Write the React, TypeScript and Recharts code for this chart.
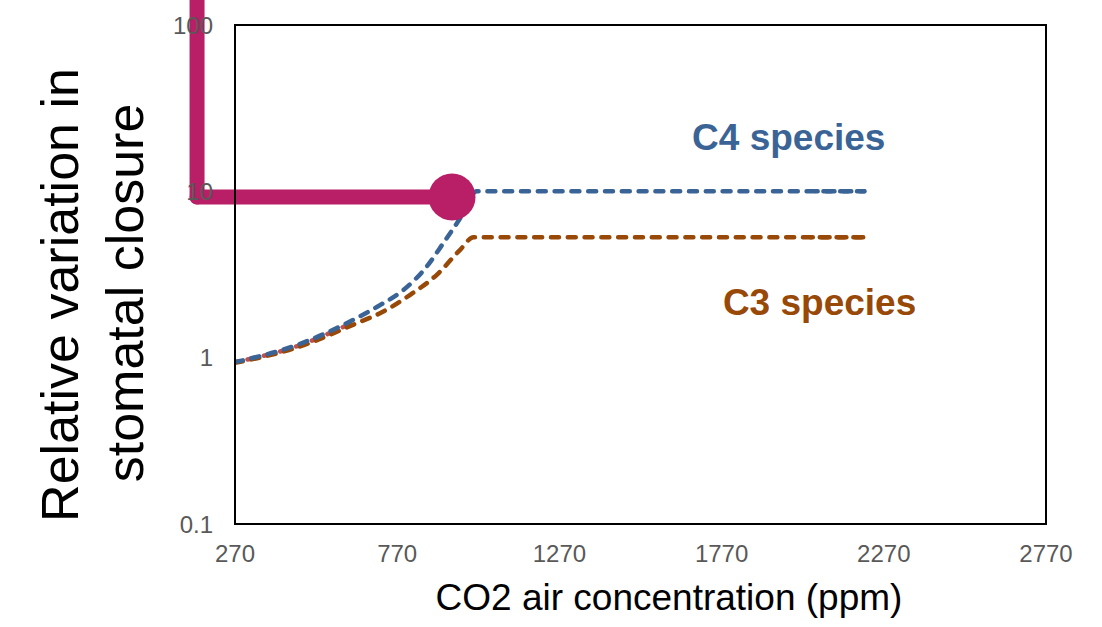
import React from 'react';
import { LineChart, Line, XAxis, YAxis, ReferenceArea, ReferenceLine, ReferenceDot, Label } from 'recharts';

// axis ticks
const xTicks = [270, 770, 1270, 1770, 2270, 2770];
const yTicks = [0.1, 1, 10, 100];

// relative variation curves
const c4Species = [
    { x: 270, y: 0.94 }, { x: 460, y: 1.19 }, { x: 645, y: 1.73 }, { x: 717, y: 2.07 },
    { x: 789, y: 2.55 }, { x: 861, y: 3.53 }, { x: 912, y: 4.88 }, { x: 964, y: 6.89 },
    { x: 1015, y: 10 }, { x: 2210, y: 10 },
];
const c3Species = [
    { x: 270, y: 0.93 }, { x: 460, y: 1.15 }, { x: 645, y: 1.61 }, { x: 717, y: 1.85 },
    { x: 809, y: 2.38 }, { x: 892, y: 3.15 }, { x: 964, y: 4.45 }, { x: 1005, y: 5.3 },
    { x: 2220, y: 5.3 },
];
const lowRange = [{ x: 270, y: 0.94 }, { x: 460, y: 1.17 }, { x: 645, y: 1.67 }];
const c4Tail = [{ x: 2060, y: 10 }, { x: 2210, y: 10 }];
const c3Tail = [{ x: 2045, y: 5.3 }, { x: 2220, y: 5.3 }];

// highlight marker (bent line ending in a dot)
const markerX = [153, 939];
const markerY = [400, 9.25];

// series labels
const seriesLabels = [
    { x: 1679, y: 17.7, text: 'C4 species', color: '#3B6496' },
    { x: 1774, y: 1.81, text: 'C3 species', color: '#984807' },
];

const BLUE = '#3B6496';
const BROWN = '#984807';
const MAGENTA = '#B81F66';
const FONT = '"Liberation Sans", Arial, sans-serif';
const DASH = '8 8.8';

const App: React.FC = () => {
    const fmt = (v: number) => String(v);

    return (
        <div style={{ position: 'absolute', left: 0, top: 0, width: 1102, height: 627, background: '#fff' }}>
            <LineChart width={1102} height={627} margin={{ top: 25, right: 56, bottom: 0, left: 0 }}>
                <XAxis
                    type="number"
                    dataKey="x"
                    domain={[270, 2770]}
                    ticks={xTicks}
                    allowDataOverflow
                    height={103}
                    tickLine={false}
                    tickSize={0}
                    tickMargin={21}
                    axisLine={{ stroke: '#000', strokeWidth: 2 }}
                    tick={{ fontSize: 24, fill: '#595959', fontFamily: FONT }}
                >
                    <Label
                        content={() => (
                            <text x={669} y={610} textAnchor="middle" fontSize={37} fontFamily={FONT} fill="#000">
                                CO2 air concentration (ppm)
                            </text>
                        )}
                    />
                </XAxis>
                <YAxis
                    type="number"
                    dataKey="y"
                    scale="log"
                    domain={[0.1, 100]}
                    ticks={yTicks}
                    allowDataOverflow
                    width={235}
                    tickLine={false}
                    tickSize={0}
                    tickMargin={22}
                    tickFormatter={fmt}
                    axisLine={{ stroke: '#000', strokeWidth: 2 }}
                    tick={{ fontSize: 24, fill: '#595959', fontFamily: FONT }}
                >
                    <Label
                        content={() => (
                            <g fontSize={52} fontFamily={FONT} fill="#000">
                                <text x={78} y={295} textAnchor="middle" transform="rotate(-90 78 295)">
                                    Relative variation in
                                </text>
                                <text x={143} y={293} textAnchor="middle" transform="rotate(-90 143 293)">
                                    stomatal closure
                                </text>
                            </g>
                        )}
                    />
                </YAxis>
                <ReferenceArea x1={270} x2={2770} y1={0.1} y2={100} fill="none" stroke="#000" strokeWidth={2} />

                <Line data={lowRange} dataKey="y" type="monotone" stroke="#C0504D" strokeWidth={4.5}
                    strokeDasharray={DASH} strokeDashoffset={4} strokeLinecap="round" dot={false} isAnimationActive={false} />
                <Line data={c3Species} dataKey="y" type="monotone" stroke={BROWN} strokeWidth={4.5}
                    strokeDasharray={DASH} strokeLinecap="round" dot={false} isAnimationActive={false} />
                <Line data={c4Species} dataKey="y" type="monotone" stroke={BLUE} strokeWidth={4.5}
                    strokeDasharray={DASH} strokeLinecap="round" dot={false} isAnimationActive={false} />
                <Line data={c4Tail} dataKey="y" type="linear" stroke={BLUE} strokeWidth={4.5}
                    strokeDasharray={DASH} strokeDashoffset={6} strokeLinecap="round" dot={false} isAnimationActive={false} />
                <Line data={c3Tail} dataKey="y" type="linear" stroke={BROWN} strokeWidth={4.5}
                    strokeDasharray={DASH} strokeDashoffset={6} strokeLinecap="round" dot={false} isAnimationActive={false} />

                <ReferenceLine
                    segment={[{ x: markerX[0], y: markerY[0] }, { x: markerX[0], y: markerY[1] }]}
                    ifOverflow="visible" stroke={MAGENTA} strokeWidth={15} strokeLinecap="round"
                />
                <ReferenceLine
                    segment={[{ x: markerX[0], y: markerY[1] }, { x: markerX[1], y: markerY[1] }]}
                    ifOverflow="visible" stroke={MAGENTA} strokeWidth={15} strokeLinecap="round"
                />
                <ReferenceDot x={markerX[1]} y={markerY[1]} r={23.5} fill={MAGENTA} stroke="none" ifOverflow="visible" />

                {seriesLabels.map((s) => (
                    <ReferenceDot
                        key={s.text}
                        x={s.x}
                        y={s.y}
                        r={1}
                        ifOverflow="visible"
                        shape={(p: any) => (
                            <text x={p.cx} y={p.cy} fill={s.color} fontSize={37} fontWeight="bold" fontFamily={FONT}>
                                {s.text}
                            </text>
                        )}
                    />
                ))}
            </LineChart>
        </div>
    );
};

export default App;
